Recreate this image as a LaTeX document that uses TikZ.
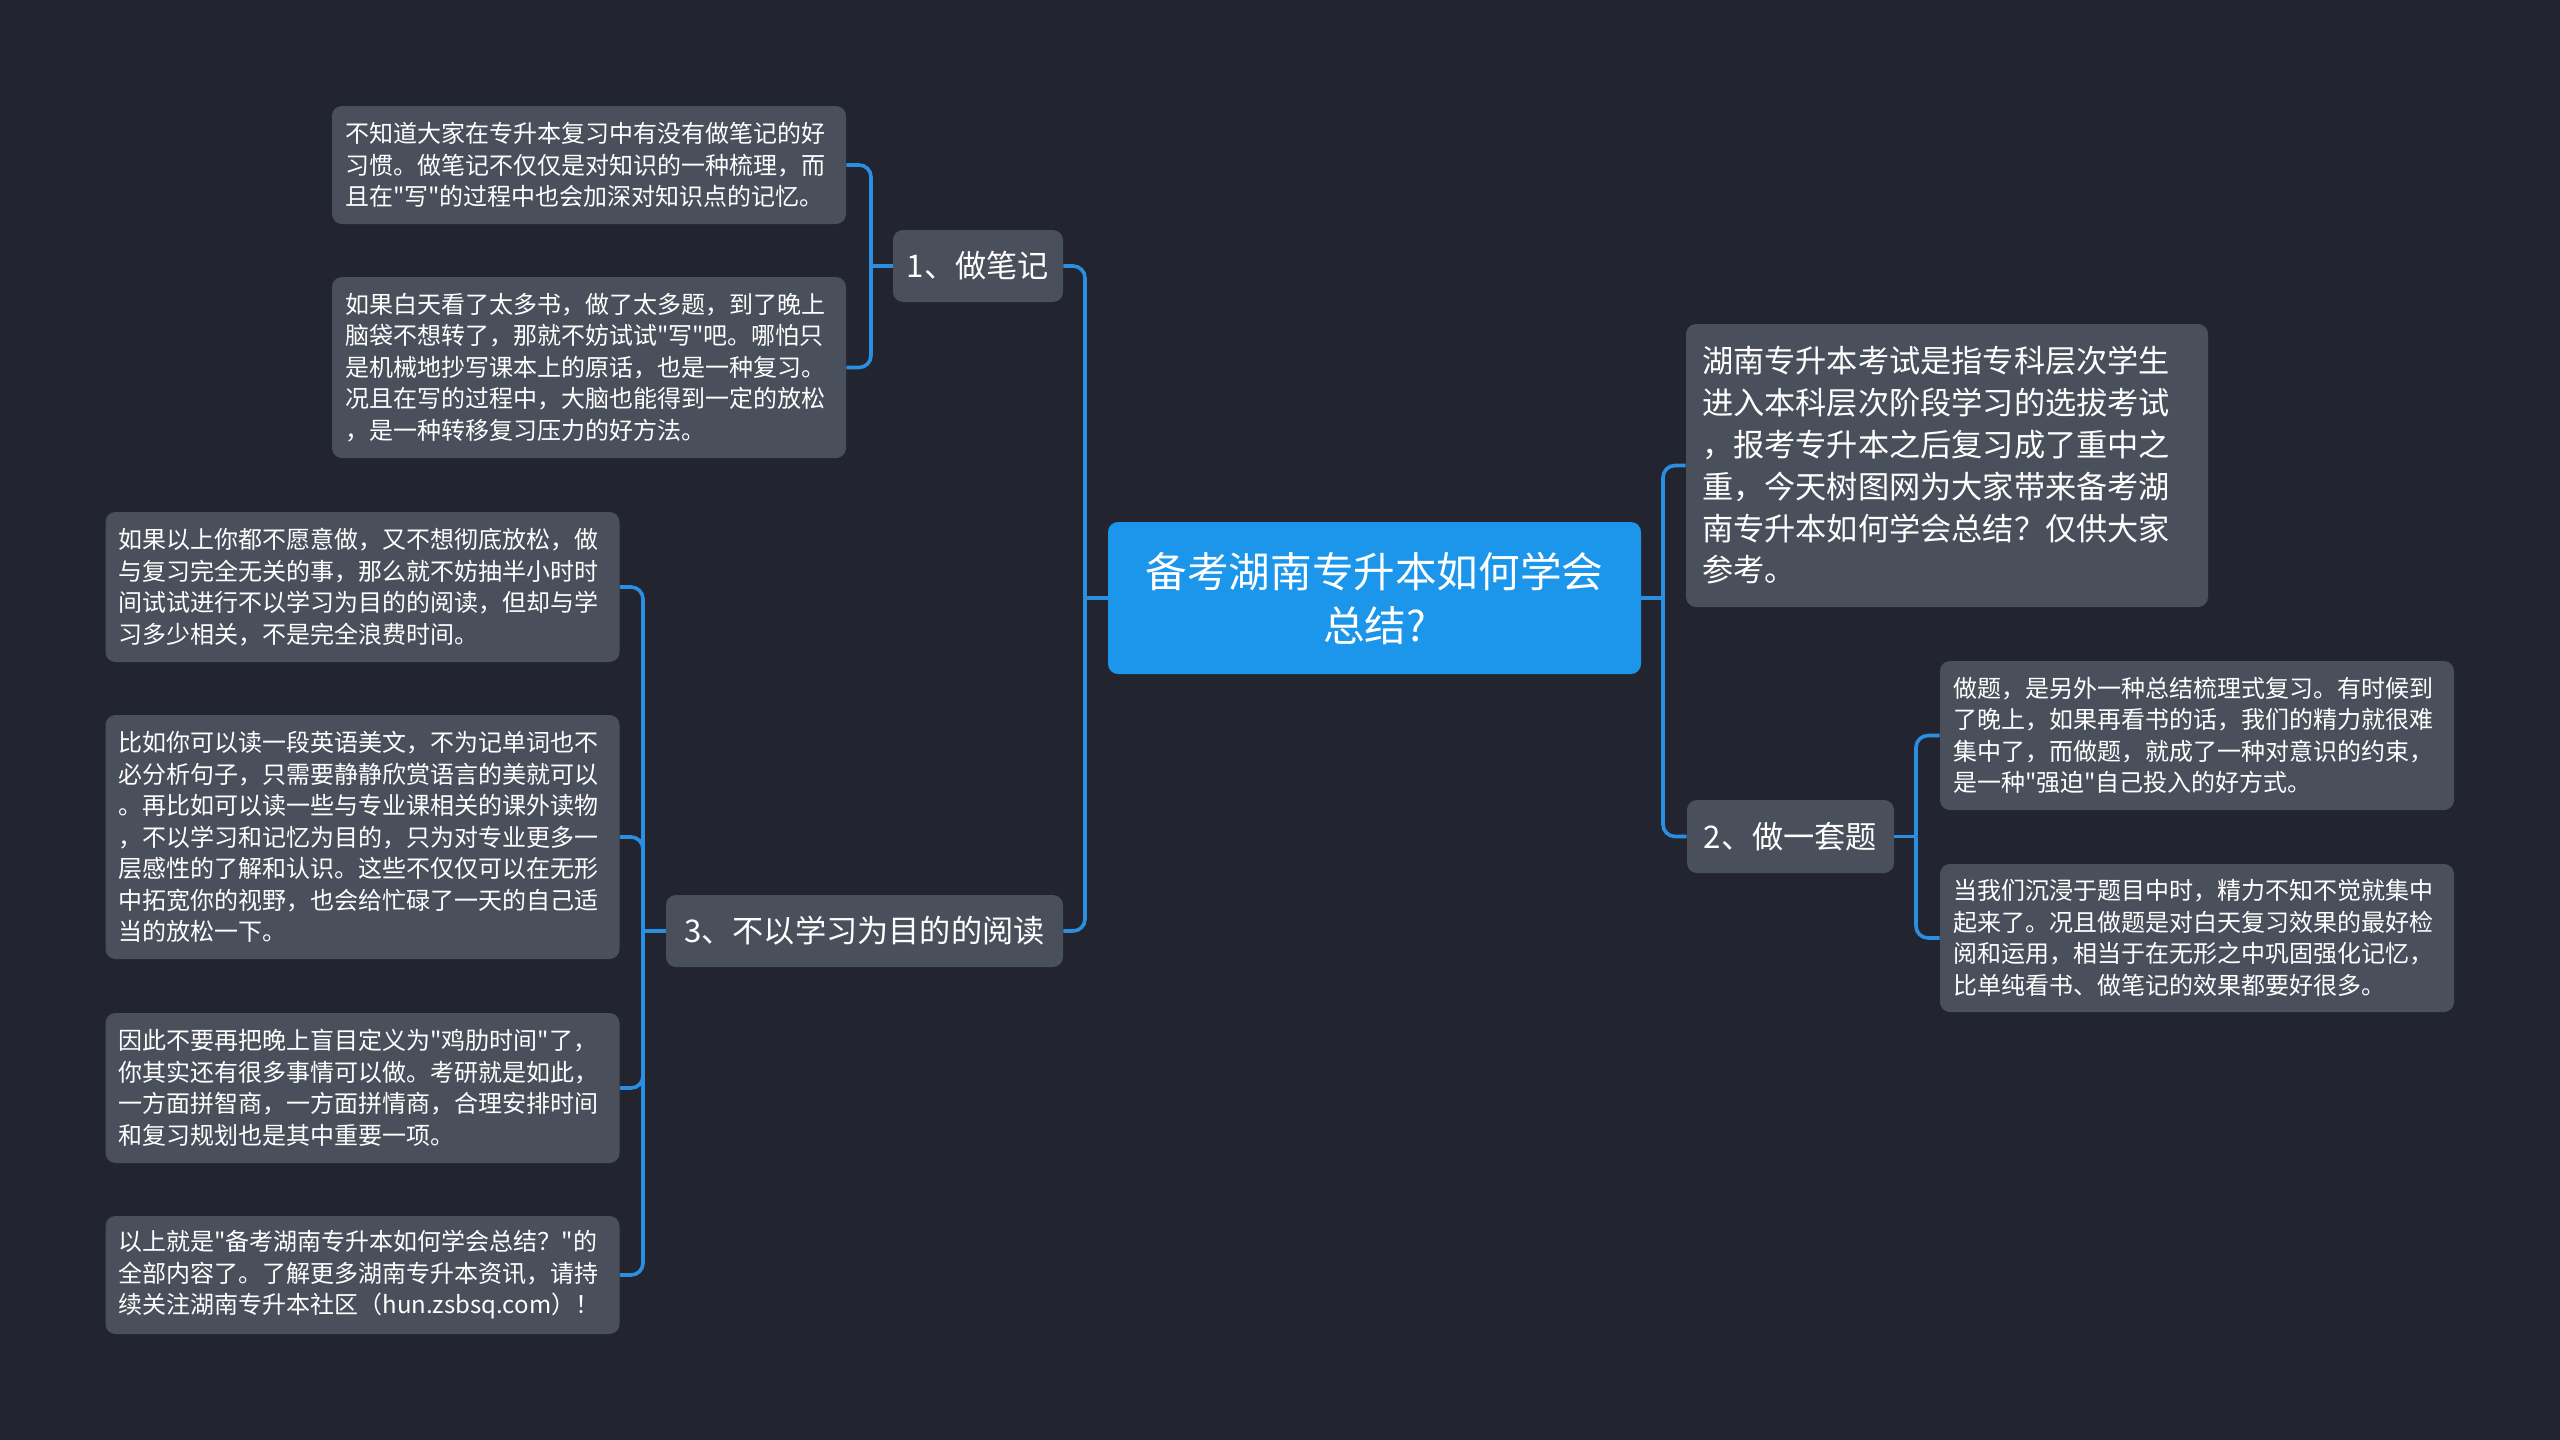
\documentclass[tikz,border=0pt]{standalone}
\usepackage{fontspec}
\setmainfont{Noto Sans CJK SC}[Ligatures=TeXOff]
\definecolor{bgc}{HTML}{22252F}
\definecolor{boxc}{HTML}{4A4F5C}
\definecolor{rootc}{HTML}{1B96EA}
\definecolor{linec}{HTML}{2A8FE2}
\tikzset{
  note/.style={fill=boxc, rounded corners=5pt, text=white, align=left, text width=244pt,
    inner xsep=6.5pt, inner ysep=0pt, font=\fontsize{12}{15.75}\selectfont},
  topic/.style={fill=boxc, rounded corners=5pt, text=white, align=center, inner sep=0pt,
    font=\fontsize{15.6}{20.9}\selectfont},
  intro/.style={fill=boxc, rounded corners=5pt, text=white, align=left, text width=245pt,
    inner xsep=8pt, inner ysep=0pt, font=\fontsize{15.6}{20.9}\selectfont},
  rootbox/.style={fill=rootc, rounded corners=5pt, text=white, align=center, inner sep=0pt,
    font=\fontsize{20.8}{27}\selectfont},
  conn/.style={draw=linec, line width=1.8pt, rounded corners=6pt}
}
\begin{document}
\begin{tikzpicture}[x=0.5pt,y=-0.5pt]
\fill[bgc] (0,0) rectangle (2560,1440);
\useasboundingbox (0,0) rectangle (2560,1440);

\node[rootbox, minimum width=266.5pt, minimum height=76pt] (root) at (1374.5,598) {备考湖南专升本如何学会\\总结?};

\node[topic, minimum width=85pt, minimum height=36pt] (n1) at (978,266) {1、做笔记};
\node[topic, minimum width=198.5pt, minimum height=36pt] (n3) at (864.5,931) {3、不以学习为目的的阅读};
\node[topic, minimum width=103.5pt, minimum height=36.5pt] (n2) at (1790.5,836.5) {2、做一套题};

\node[intro, minimum height=141.5pt] (G) at (1947,465.5) {湖南专升本考试是指专科层次学生\\进入本科层次阶段学习的选拔考试\\，报考专升本之后复习成了重中之\\重，今天树图网为大家带来备考湖\\南专升本如何学会总结？仅供大家\\参考。};

\node[note, minimum height=59pt] (A) at (589,165) {不知道大家在专升本复习中有没有做笔记的好\\习惯。做笔记不仅仅是对知识的一种梳理，而\\且在"写"的过程中也会加深对知识点的记忆。};
\node[note, minimum height=90.5pt] (B) at (589,367.5) {如果白天看了太多书，做了太多题，到了晚上\\脑袋不想转了，那就不妨试试"写"吧。哪怕只\\是机械地抄写课本上的原话，也是一种复习。\\况且在写的过程中，大脑也能得到一定的放松\\，是一种转移复习压力的好方法。};

\node[note, minimum height=75pt] (C) at (362.5,587) {如果以上你都不愿意做，又不想彻底放松，做\\与复习完全无关的事，那么就不妨抽半小时时\\间试试进行不以学习为目的的阅读，但却与学\\习多少相关，不是完全浪费时间。};
\node[note, minimum height=122pt] (D) at (362.5,837) {比如你可以读一段英语美文，不为记单词也不\\必分析句子，只需要静静欣赏语言的美就可以\\。再比如可以读一些与专业课相关的课外读物\\，不以学习和记忆为目的，只为对专业更多一\\层感性的了解和认识。这些不仅仅可以在无形\\中拓宽你的视野，也会给忙碌了一天的自己适\\当的放松一下。};
\node[note, minimum height=75pt] (E) at (362.5,1088) {因此不要再把晚上盲目定义为"鸡肋时间"了，\\你其实还有很多事情可以做。考研就是如此，\\一方面拼智商，一方面拼情商，合理安排时间\\和复习规划也是其中重要一项。};
\node[note, minimum height=59pt] (F) at (362.5,1275) {以上就是"备考湖南专升本如何学会总结？"的\\全部内容了。了解更多湖南专升本资讯，请持\\续关注湖南专升本社区（hun.zsbsq.com）！};

\node[note, minimum height=74.5pt] (H) at (2197,735.5) {做题，是另外一种总结梳理式复习。有时候到\\了晚上，如果再看书的话，我们的精力就很难\\集中了，而做题，就成了一种对意识的约束，\\是一种"强迫"自己投入的好方式。};
\node[note, minimum height=74pt] (I) at (2197,938) {当我们沉浸于题目中时，精力不知不觉就集中\\起来了。况且做题是对白天复习效果的最好检\\阅和运用，相当于在无形之中巩固强化记忆，\\比单纯看书、做笔记的效果都要好很多。};

% junction coordinates
\coordinate (lt) at (1085,598);
\coordinate (rt) at (1663,598);
\coordinate (b1) at (871,266);
\coordinate (b3) at (643,931);
\coordinate (b2) at (1916,836.5);

% root trunks
\draw[conn] (root.west) -- (lt);
\draw[conn] (n1.east) -- (n1.east -| lt) -- (lt);
\draw[conn] (n3.east) -- (n3.east -| lt) -- (lt);
\draw[conn] (root.east) -- (rt);
\draw[conn] (G.west) -- (G.west -| rt) -- (rt);
\draw[conn] (n2.west) -- (n2.west -| rt) -- (rt);

% topic brackets
\draw[conn] (n1.west) -- (b1);
\draw[conn] (A.east) -- (A.east -| b1) -- (b1);
\draw[conn] (B.east) -- (B.east -| b1) -- (b1);

\draw[conn] (n3.west) -- (b3);
\draw[conn] (C.east) -- (C.east -| b3) -- (b3);
\draw[conn] (D.east) -- (D.east -| b3) -- (b3);
\draw[conn] (E.east) -- (E.east -| b3) -- (b3);
\draw[conn] (F.east) -- (F.east -| b3) -- (b3);

\draw[conn] (n2.east) -- (b2);
\draw[conn] (H.west) -- (H.west -| b2) -- (b2);
\draw[conn] (I.west) -- (I.west -| b2) -- (b2);
\end{tikzpicture}
\end{document}
